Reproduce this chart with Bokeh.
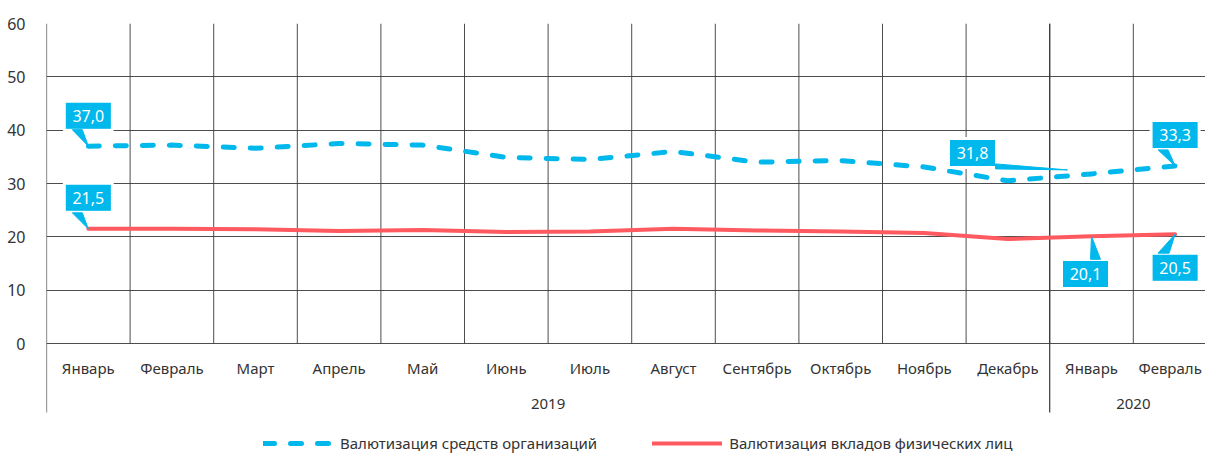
from bokeh.plotting import figure
from bokeh.models import FixedTicker, Range1d, Legend, LegendItem
from bokeh.core.properties import value
from bokeh.embed import file_html
from bokeh.resources import INLINE

# ---- data ----
months = ["Январь", "Февраль", "Март", "Апрель", "Май", "Июнь", "Июль", "Август",
          "Сентябрь", "Октябрь", "Ноябрь", "Декабрь", "Январь", "Февраль"]
years = ["2019", "2020"]
year_counts = [12, 2]
org = [37.0, 37.2, 36.6, 37.5, 37.2, 34.9, 34.5, 36.0, 34.0, 34.3, 33.1, 30.5, 31.8, 33.3]
ind = [21.5, 21.5, 21.4, 21.1, 21.3, 20.9, 21.0, 21.5, 21.2, 21.0, 20.7, 19.6, 20.1, 20.5]
org_name = "Валютизация средств организаций"
ind_name = "Валютизация вкладов физических лиц"
y_ticks = [0, 10, 20, 30, 40, 50, 60]

BLUE = "#00B8EC"
RED = "#FF5A5F"
TXT = "#333333"
FONT = "Noto Sans"

# ---- geometry ----
W, H = 1205, 455
LEFT, TOP = 46, 23
FW, FH = W - LEFT, H - TOP
PX_CAT = 83.6
PX_UNIT = 320 / 60.0
x0 = -0.5
x1 = x0 + FW / PX_CAT
y1 = 60
y0 = y1 - FH / PX_UNIT
dx = 1 / PX_CAT
dy = 1 / PX_UNIT

p = figure(width=W, height=H, output_backend="svg", toolbar_location=None,
           x_range=Range1d(x0, x1), y_range=Range1d(y0, y1),
           x_axis_location=None, min_border_left=LEFT, min_border_top=TOP,
           min_border_right=0, min_border_bottom=0)
p.outline_line_color = None
p.background_fill_color = "white"
p.xgrid.visible = False
p.ygrid.ticker = FixedTicker(ticks=y_ticks)
p.ygrid.grid_line_color = "#3a3a3a"
p.ygrid.grid_line_width = 1
p.ygrid.grid_line_alpha = 0.9

ax = p.yaxis[0]
ax.ticker = FixedTicker(ticks=y_ticks)
ax.axis_line_color = None
ax.major_tick_line_color = None
ax.minor_tick_line_color = None
ax.major_label_standoff = 15
ax.major_label_text_font = FONT
ax.major_label_text_font_size = "16px"
ax.major_label_text_color = TXT

n = len(months)
xs = list(range(n))

# vertical grid lines between categories
bounds = [i + 0.5 for i in range(n)]
p.segment(x0=bounds, y0=[0] * n, x1=bounds, y1=[60] * n, line_color="#3a3a3a", line_width=1, line_alpha=0.9)
# left axis line & year separators extend below
sep = [x0]
acc = 0
for c in year_counts[:-1]:
    acc += c
    sep.append(acc - 0.5)
bottom_line = -(412 - 343) / PX_UNIT
p.segment(x0=sep, y0=[bottom_line] * len(sep), x1=sep, y1=[60] * len(sep), line_color="#3a3a3a", line_width=1.2)

# month labels (last one nudged to stay inside the edge)
label_shift = [0] * (n - 1) + [-5]
p.text(x=xs, y=[-(367 - 343) / PX_UNIT] * n, text=months, x_offset=label_shift,
       text_align="center", text_baseline="middle",
       text_font=value(FONT), text_font_size="15px", text_color=TXT)
# year labels
yc = []
acc = 0
for c in year_counts:
    yc.append(acc + (c - 1) / 2)
    acc += c
p.text(x=yc, y=[-(403 - 343) / PX_UNIT] * len(years), text=years, text_align="center", text_baseline="middle",
       text_font=value(FONT), text_font_size="15px", text_color=TXT)

# series
r_org = p.line(xs, org, line_color=BLUE, line_width=5, line_dash="11 16", line_cap="round", line_join="round")
r_ind = p.line(xs, ind, line_color=RED, line_width=4, line_cap="round", line_join="round")

# callouts: (index, value, box center offset px (right, down), pointer base pts px, tip px)
callouts = [
    (0, org[0], (0, -30.5), [(-16, -16.5), (-6, -16.5)], (0, 0)),
    (0, ind[0], (0, -31), [(-16, -16), (-6, -16)], (0, 0)),
    (12, org[12], (-119, -21), [(-96, -10), (-96, -5)], (-24, -4)),
    (13, org[13], (0, -31), [(-17, -16), (-7, -16)], (0, 0)),
    (12, ind[12], (-6, 37.7), [(-1, 23), (9, 23)], (0, 0)),
    (13, ind[13], (0, 33.5), [(-17, 19), (-6, 19)], (0, 0)),
]
bx, by, btxt, pxs, pys = [], [], [], [], []
for i, v, (ox, oy), base, tip in callouts:
    bx.append(i + ox * dx)
    by.append(v - oy * dy)
    btxt.append(f"{v:.1f}".replace(".", ","))
    pxs.append([i + base[0][0] * dx, i + base[1][0] * dx, i + tip[0] * dx])
    pys.append([v - base[0][1] * dy, v - base[1][1] * dy, v - tip[1] * dy])

p.rect(x=bx, y=by, width=48, height=29, width_units="screen", height_units="screen",
       fill_color=BLUE, line_color="white", line_width=3)
p.patches(xs=pxs, ys=pys, fill_color=BLUE, line_color=BLUE, line_width=1)
p.rect(x=bx, y=by, width=44, height=25, width_units="screen", height_units="screen",
       fill_color=BLUE, line_color=None)
p.text(x=bx, y=by, text=btxt, text_align="center", text_baseline="middle",
       text_font=value(FONT), text_font_size="16px", text_color="white")

legend = Legend(items=[LegendItem(label=org_name, renderers=[r_org]),
                       LegendItem(label=ind_name, renderers=[r_ind])],
                orientation="horizontal", location=(217, 2))
legend.glyph_width = 70
legend.glyph_height = 18
legend.label_height = 18
legend.label_standoff = 7
legend.spacing = 55
legend.padding = 0
legend.margin = 0
legend.border_line_color = None
legend.background_fill_alpha = 0
legend.label_text_font = FONT
legend.label_text_font_size = "15px"
legend.label_text_color = TXT
p.add_layout(legend, "center")

open("out.html", "w").write(file_html(p, INLINE))
